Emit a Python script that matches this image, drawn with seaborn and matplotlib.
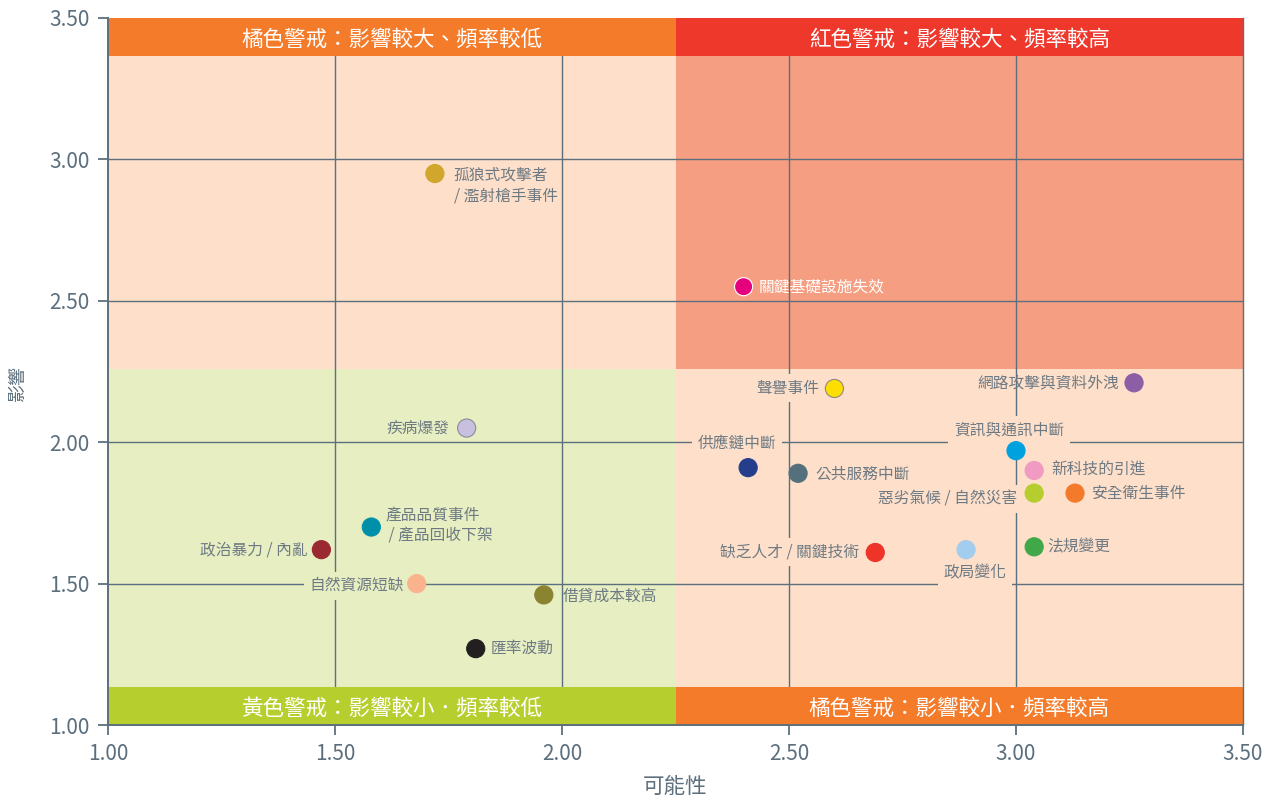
import matplotlib
matplotlib.use("Agg")
import matplotlib.pyplot as plt
import seaborn as sns
import pandas as pd

# Risk items: likelihood (x) and impact (y)
risks = [
    "孤狼式攻擊者\n/ 濫射槍手事件",
    "關鍵基礎設施失效",
    "聲譽事件",
    "網路攻擊與資料外洩",
    "疾病爆發",
    "供應鏈中斷",
    "公共服務中斷",
    "資訊與通訊中斷",
    "新科技的引進",
    "惡劣氣候 / 自然災害",
    "安全衛生事件",
    "產品品質事件\n / 產品回收下架",
    "政治暴力 / 內亂",
    "缺乏人才 / 關鍵技術",
    "政局變化",
    "法規變更",
    "自然資源短缺",
    "借貸成本較高",
    "匯率波動",
]
likelihood = [1.72, 2.40, 2.60, 3.26, 1.79, 2.41, 2.52, 3.00, 3.04, 3.04, 3.13,
              1.58, 1.47, 2.69, 2.89, 3.04, 1.68, 1.96, 1.81]
impact = [2.95, 2.55, 2.19, 2.21, 2.05, 1.91, 1.89, 1.97, 1.90, 1.82, 1.82,
          1.70, 1.62, 1.61, 1.62, 1.63, 1.50, 1.46, 1.27]
dot_colors = ["#d1a62c", "#e5007d", "#fedd00", "#8d5ea6", "#c9c0e0", "#243e8c",
              "#55707d", "#00a1df", "#f19bc3", "#b6cd2e", "#f37a2b", "#008fa9",
              "#9a2932", "#ee3429", "#a3cdee", "#40a848", "#fbb38e", "#8a8330",
              "#231f20"]

x_ticks = [1.00, 1.50, 2.00, 2.50, 3.00, 3.50]
y_ticks = [1.00, 1.50, 2.00, 2.50, 3.00, 3.50]
x_split, y_split = 2.25, 2.26
band_titles = ["橘色警戒：影響較大、頻率較低", "紅色警戒：影響較大、頻率較高",
               "黃色警戒：影響較小．頻率較低", "橘色警戒：影響較小．頻率較高"]
x_title = "可能性"
y_title = "影響"

# Label placement: offset in pixels (dx, dy up), ha, va, masked background
layout = {
    0: (19, -12, "left", "center", False),
    1: (15, 0, "left", "center", False),
    2: (-15, 0, "right", "center", True),
    3: (-15, 0, "right", "center", False),
    4: (-17, 0, "right", "center", False),
    5: (-11, 24, "center", "center", True),
    6: (17, -1, "left", "center", False),
    7: (-7, 21, "center", "center", True),
    8: (17, 0, "left", "center", False),
    9: (-17, -6, "right", "center", True),
    10: (17, 0, "left", "center", False),
    11: (14, 1, "left", "center", False),
    12: (-14, 0, "right", "center", False),
    13: (-16, 0, "right", "center", True),
    14: (9, -23, "center", "center", True),
    15: (13, 0, "left", "center", False),
    16: (-13, -2, "right", "center", True),
    17: (19, -1, "left", "center", False),
    18: (15, 0, "left", "center", False),
}

sns.set_theme(style="white")
plt.rcParams["font.family"] = ["Noto Sans CJK TC", "DejaVu Sans"]

axis_col = "#5c6f7d"
label_col = "#6e7a83"
peach, salmon, green = "#fddfca", "#f59e82", "#e6eec2"
band_orange, band_red, band_green = "#f47b2a", "#ef382c", "#b7cf2e"

fig = plt.figure(figsize=(12.71, 8.0), dpi=100)
ax = fig.add_axes([108 / 1271, 75 / 800, 1135 / 1271, 707 / 800])
ax.set_xlim(x_ticks[0], x_ticks[-1])
ax.set_ylim(y_ticks[0], y_ticks[-1])

# Quadrant backgrounds
x0, x1 = x_ticks[0], x_ticks[-1]
y0, y1 = y_ticks[0], y_ticks[-1]
ax.fill_between([x0, x_split], y_split, y1, color=peach, lw=0, zorder=0)
ax.fill_between([x_split, x1], y_split, y1, color=salmon, lw=0, zorder=0)
ax.fill_between([x0, x_split], y0, y_split, color=green, lw=0, zorder=0)
ax.fill_between([x_split, x1], y0, y_split, color=peach, lw=0, zorder=0)

# Grid lines
for xv in x_ticks[1:-1]:
    ax.axvline(xv, color=axis_col, lw=1.0, zorder=1)
for yv in y_ticks[1:-1]:
    ax.axhline(yv, color=axis_col, lw=1.0, zorder=1)

# Header / footer bands
band_h = 0.134
bands = [
    (x0, x_split, y1 - band_h, y1, band_orange, band_titles[0]),
    (x_split, x1, y1 - band_h, y1, band_red, band_titles[1]),
    (x0, x_split, y0, y0 + band_h, band_green, band_titles[2]),
    (x_split, x1, y0, y0 + band_h, band_orange, band_titles[3]),
]
for bx0, bx1, by0, by1, col, title in bands:
    ax.fill_between([bx0, bx1], by0, by1, color=col, lw=0, zorder=2)
    ax.text((bx0 + bx1) / 2, (by0 + by1) / 2, title, ha="center",
            va="center_baseline", color="white", fontsize=15.5,
            fontweight="light", zorder=3)

# Points
df = pd.DataFrame({"risk": risks, "likelihood": likelihood, "impact": impact})
sns.scatterplot(data=df, x="likelihood", y="impact", hue="risk",
                palette=dot_colors, s=170, linewidth=0.8, legend=False,
                ax=ax, zorder=5)
pts = ax.collections[-1]
edges = list(dot_colors)
edges[1] = "white"
edges[2] = "#8c8c7a"
edges[4] = "#8c8c9a"
pts.set_edgecolors(edges)


def region_color(xv, yv):
    if xv < x_split and yv < y_split:
        return green
    if xv >= x_split and yv >= y_split:
        return salmon
    return peach


for i, name in enumerate(risks):
    dx, dy, ha, va, mask = layout[i]
    color = "white" if i == 1 else label_col
    kw = {}
    if mask:
        kw["bbox"] = dict(boxstyle="square,pad=0.35",
                          fc=region_color(likelihood[i], impact[i]), ec="none")
    ax.annotate(name, (likelihood[i], impact[i]),
                xytext=(dx * 0.72, dy * 0.72), textcoords="offset points",
                ha=ha, va=va, fontsize=11.3, color=color, linespacing=1.25,
                fontweight="light", zorder=4, **kw)

# Axes styling
ax.set_xticks(x_ticks)
ax.set_yticks(y_ticks)
ax.set_xticklabels([f"{v:.2f}" for v in x_ticks], fontweight="light")
ax.set_yticklabels([f"{v:.2f}" for v in y_ticks], fontweight="light")
ax.tick_params(axis="both", direction="out", length=7, width=1.3,
               color=axis_col, labelcolor=axis_col, labelsize=15, pad=6,
               left=True, bottom=True)
for side in ["left", "bottom", "right"]:
    ax.spines[side].set_color(axis_col)
    ax.spines[side].set_linewidth(1.4)
    ax.spines[side].set_zorder(6)
ax.spines["right"].set_linewidth(1.0)
ax.spines["top"].set_visible(False)
ax.set_xlabel(x_title, fontsize=15.5, color=axis_col, labelpad=8,
              fontweight="light")
ax.set_ylabel("")
fig.text(18 / 1271, 1 - 383 / 800, y_title, rotation=90, ha="center",
         va="center", fontsize=13, color=axis_col, fontweight="light")

fig.savefig("out.png", dpi=100)
